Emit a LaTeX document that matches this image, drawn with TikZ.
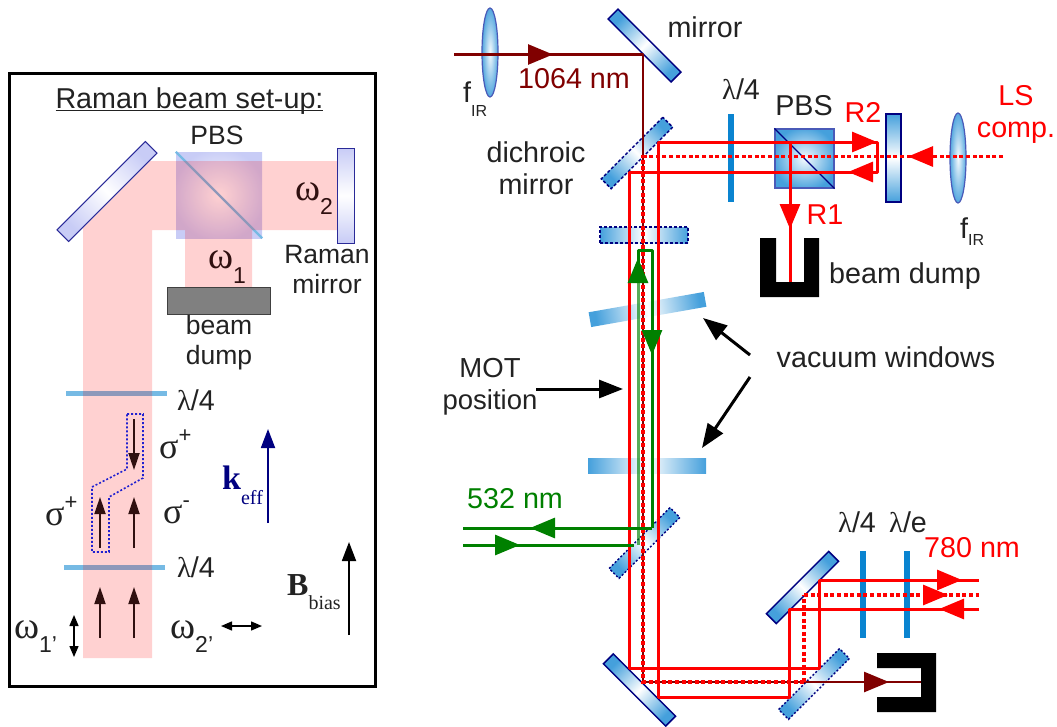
\documentclass[tikz,border=0pt]{standalone}
\usepackage{fontspec}
\setmainfont{Liberation Sans}
\newfontfamily\greekface{Liberation Serif}
\usetikzlibrary{arrows.meta,shapes.geometric}

\definecolor{inktext}{HTML}{222222}
\definecolor{opticblue}{HTML}{45A0DC}
\definecolor{opticedge}{HTML}{000080}
\definecolor{lensedge}{HTML}{4A5AB8}
\definecolor{lavender}{HTML}{C8CCF6}
\definecolor{lavedge}{HTML}{2A2A98}
\definecolor{plateblue}{HTML}{0A84D0}
\definecolor{platelight}{HTML}{76BAE4}
\definecolor{irred}{HTML}{800000}
\definecolor{pulsegreen}{HTML}{008000}
\definecolor{brownink}{HTML}{301010}
\definecolor{dottedblue}{HTML}{2020D0}

\pgfdeclareradialshading{glowblue}{\pgfpoint{0bp}{0bp}}{color(0bp)=(white!95!opticblue); color(27bp)=(opticblue); color(50bp)=(opticblue)}
\pgfdeclareradialshading{glowlav}{\pgfpoint{0bp}{0bp}}{color(0bp)=(white); color(27bp)=(lavender); color(50bp)=(lavender)}

\newcommand{\grk}[1]{{\greekface #1}}
\newcommand{\shifttext}[3]{\raisebox{#1pt}{\fontsize{#2}{#2}\selectfont #3}}
\newcommand{\omg}{{\greekface\fontsize{38}{38}\selectfont ω}}
\newcommand{\sgm}{{\greekface\fontsize{36}{36}\selectfont σ}}
\newcommand{\titlerule}[1]{\vtop{\hbox{#1}\kern-4pt\hrule height 1.5pt}}

\tikzset{
  lbl/.style={inner sep=0pt,text=inktext,align=center,font=\fontsize{28.7}{32}\selectfont},
  smalllbl/.style={lbl,font=\fontsize{26.5}{30}\selectfont},
  bluefade/.style={left color=opticblue,right color=opticblue,middle color=white},
  lavfade/.style={left color=lavender,right color=lavender,middle color=white},
  optic/.style={draw=opticedge,line width=1.5pt,bluefade,inner sep=0pt,minimum width=#1,minimum height=14pt},
  lavoptic/.style={draw=lavedge,line width=1pt,lavfade,inner sep=0pt,minimum width=#1,minimum height=16.5pt},
  window/.style={bluefade,inner sep=0pt,minimum width=#1,minimum height=15pt},
  lens/.style={ellipse,draw=lensedge,line width=1.2pt,shading=glowblue,inner sep=0pt,minimum width=16pt,minimum height=#1},
  dashedge/.style={dash pattern=on 3pt off 2pt},
  dotedge/.style={dash pattern=on 2pt off 2pt},
  plate/.style={fill=plateblue,draw=none},
  redbeam/.style={draw=red,line width=3pt,line join=round},
  reddots/.style={draw=red,line width=3.6pt,dash pattern=on 4pt off 2.6pt},
  irbeam/.style={draw=irred,line width=2.6pt,line join=round},
  greenbeam/.style={draw=pulsegreen,line width=3pt,line join=round},
  bigtip/.style={-{Triangle[length=25pt,width=20pt]}},
  brownarrow/.style={draw=brownink,line width=1.8pt,-{Triangle[length=17pt,width=11pt]}},
  plainarrow/.style={draw=black,line width=3pt,-{Triangle[length=24pt,width=18pt]}},
  pairarrow/.style={draw=black,line width=1.4pt,{Triangle[length=11pt,width=9pt]}-{Triangle[length=11pt,width=9pt]}}
}

\begin{document}
\begin{tikzpicture}[x=1pt,y=-1pt]
\useasboundingbox (0,0) rectangle (1057,726);
\draw[line width=3pt] (9,73) rectangle (375,686);

\node[shading=glowlav,minimum width=86pt,minimum height=86pt,inner sep=0pt] (boxcube) at (219,195) {};
\draw[platelight,line width=2.4pt] (boxcube.north west) -- (boxcube.south east);
\fill[platelight] (66,390.5) rectangle (167,395.5);
\fill[platelight] (64,564.5) rectangle (165,569.5);
\fill[red,opacity=0.18] (83,658) -- (152,658) -- (152,230) -- (185,230) -- (185,287) -- (252,287) -- (252,230) -- (338,230) -- (338,161) -- (150,161) -- (83,228) -- cycle;
\node[lavoptic=125pt,rotate=45,shading angle=135] (boxmirror) at (107,191.5) {};
\node[lavoptic=95pt,rotate=90,shading angle=0] (ramanmirror) at (346,195.5) {};
\node[draw=black!75,line width=1pt,fill=black!50,minimum width=103pt,minimum height=27pt,inner sep=0pt] (boxdump) at (218.5,300.5) {};

\draw[dottedblue,line width=1.6pt,dotedge] (127,414) -- (143,414) -- (143,478) -- (109,497) -- (109,552) -- (92,552) -- (92,487) -- (127,469) -- cycle;
\draw[brownarrow] (134,419) -- (134,470);
\draw[brownarrow] (100,548) -- (100,497);
\draw[brownarrow] (134,548) -- (134,497);
\draw[brownarrow] (100,638) -- (100,587);
\draw[brownarrow] (134,638) -- (134,587);
\draw[pairarrow] (74,615) -- (74,657);
\draw[pairarrow] (221,626) -- (262,626);
\draw[draw=opticedge,line width=1.8pt,-{Triangle[length=19pt,width=14pt]}] (268,523) -- (268,429);
\draw[draw=black,line width=1.8pt,-{Triangle[length=19pt,width=14pt]}] (349,635) -- (349,542);

\node[lbl,anchor=base] (boxtitle) at (189.5,108) {\titlerule{Raman beam set-up:}};
\node[smalllbl] (boxpbs) at (217,135) {PBS};
\node[smalllbl,anchor=base west,text=brownink] (omegatwo) at (295,200) {\omg\shifttext{-14}{23}{2}};
\node[smalllbl,anchor=base west,text=brownink] (omegaone) at (208,268) {\omg\shifttext{-15}{23}{1}};
\node[smalllbl] (ramanlabel) at (327,270) {Raman\\mirror};
\node[smalllbl] (dumplabel) at (219,343) {beam\\dump};
\node[lbl] (quartertop) at (196,400) {\grk{λ}/4};
\node[lbl] (quarterlow) at (196,567) {\grk{λ}/4};
\node[lbl,anchor=base west] (sigmatop) at (159,458) {\sgm\shifttext{16}{22}{+}};
\node[lbl,anchor=base west] (sigmaleft) at (45,525) {\sgm\shifttext{16}{22}{+}};
\node[lbl,anchor=base west] (sigmaright) at (163,523) {\sgm\shifttext{16}{22}{-}};
\node[lbl,anchor=base west,text=opticedge] (keff) at (222,489) {{\greekface\bfseries\fontsize{34}{34}\selectfont k}{\greekface\shifttext{-15}{20}{eff}}};
\node[lbl,anchor=base west] (bbias) at (287,595) {{\greekface\bfseries\fontsize{32}{32}\selectfont B}{\greekface\shifttext{-14}{20}{bias}}};
\node[lbl,anchor=base west] (omegaonep) at (14,638) {\omg\shifttext{-14}{23}{1'}};
\node[lbl,anchor=base west] (omegatwop) at (170,638) {\omg\shifttext{-14}{23}{2'}};

\node[lens=89pt] (lensir) at (490,52.5) {};
\node[optic=89pt,rotate=-45,shading angle=45] (topmirror) at (644.5,45.5) {};
\node[optic=87pt,dashedge,rotate=45,shading angle=135] (dichroictop) at (637,153) {};
\node[optic=88pt,dashedge,minimum height=16pt] (platedash) at (644,235) {};
\node[window=117pt,rotate=10,shading angle=100] (windowtop) at (647.5,309.5) {};
\node[window=118pt] (windowlow) at (647,465.5) {};
\node[optic=86pt,dotedge,rotate=45,shading angle=135] (dichroicgreen) at (644.5,543) {};
\node[optic=88pt,rotate=-45,shading angle=45] (lowmirror) at (639.5,690) {};
\node[optic=88pt,rotate=45,shading angle=135] (rightmirror) at (802.5,587.5) {};
\node[optic=86pt,dotedge,rotate=45,shading angle=135] (dichroiclow) at (814,684) {};
\fill[plate] (728,114) rectangle (734,202);
\fill[plate] (860,551) rectangle (866,638);
\fill[plate] (904,551) rectangle (910,638);
\node[draw=lensedge,line width=1.2pt,shading=glowblue,minimum width=59pt,minimum height=59pt,inner sep=0pt] (cube) at (804.5,158.5) {};
\draw[opticedge,line width=1.2pt] (cube.north west) -- (cube.south east);
\node[optic=88pt,minimum height=15pt,rotate=90,shading angle=0] (rtwoplate) at (893.5,158) {};
\node[lens=90pt] (lensright) at (958,158) {};

\fill[black] (760,238) -- (776,238) -- (776,282) -- (804,282) -- (804,238) -- (819,238) -- (819,297) -- (760,297) -- cycle;
\fill[black] (877,653) -- (936,653) -- (936,712) -- (877,712) -- (877,697) -- (921,697) -- (921,668) -- (877,668) -- cycle;

\draw[irbeam] (454,54.5) -- (643,54.5) -- (643,682) -- (921,682);
\draw[draw=irred,line width=2.6pt,bigtip] (528,54.5) -- (553,54.5);
\draw[draw=irred,line width=2.6pt,bigtip] (864,682) -- (889,682);

\draw[redbeam] (979,609) -- (789,609) -- (789,697) -- (658,697) -- (658,142) -- (877,142) -- (877,172) -- (629,172) -- (629,668) -- (819,668) -- (819,580) -- (979,580);
\draw[reddots] (1003,156.5) -- (643,156.5) -- (643,682) -- (804,682);
\draw[reddots,line width=4.4pt] (804,682) -- (804,595);
\draw[reddots] (804,595) -- (979,595);
\draw[redbeam] (790,142) -- (790,282);

\draw[greenbeam] (652,528) -- (652,250) -- (638,250) -- (638,283);
\draw[greenbeam,opacity=0.65] (638,283) -- (638,545);
\draw[greenbeam] (463,528) -- (652,528);
\draw[greenbeam] (463,545) -- (634,545);

\draw[red,line width=3pt,bigtip] (851,142) -- (877,142);
\draw[red,line width=3pt,bigtip] (872,172) -- (848,172);
\draw[red,line width=3pt,bigtip] (933,156.5) -- (908,156.5);
\draw[red,line width=3pt,bigtip] (790,205) -- (790,229);
\draw[red,line width=3pt,bigtip] (939,580) -- (962,580);
\draw[red,line width=3pt,bigtip] (924,595) -- (948,595);
\draw[red,line width=3pt,bigtip] (962,609) -- (939,609);
\draw[pulsegreen,line width=3pt,bigtip] (638,283) -- (638,258);
\draw[pulsegreen,line width=3pt,bigtip] (652,332) -- (652,355);
\draw[pulsegreen,line width=3pt,bigtip] (553,528) -- (530,528);
\draw[pulsegreen,line width=3pt,bigtip] (497,545) -- (520,545);

\draw[plainarrow] (536,389) -- (623,389);
\draw[plainarrow] (750,355) -- (703,318);
\draw[plainarrow] (750,377) -- (702,448);

\node[lbl] (mirrorlabel) at (705,27) {mirror};
\node[lbl,anchor=base west,text=irred] (irlabel) at (518,88) {1064 nm};
\node[lbl,anchor=base west] (firleft) at (463,102) {f\shifttext{-14}{16}{IR}};
\node[lbl] (dichroiclabel) at (536,168) {dichroic\\mirror};
\node[lbl] (quarterone) at (741,89) {\grk{λ}/4};
\node[lbl] (pbslabel) at (804,106) {PBS};
\node[lbl,anchor=base,text=red] (rtwo) at (863,122) {R2};
\node[lbl,anchor=base,text=red] (rone) at (825,224) {R1};
\node[lbl,text=red] (lscomp) at (1016,114) {LS\\comp.};
\node[lbl,anchor=base west] (firright) at (960,238) {f\shifttext{-7}{16}{IR}};
\node[lbl,anchor=base west] (beamdump) at (829,283) {beam dump};
\node[smalllbl,font=\fontsize{27.5}{32}\selectfont] (motlabel) at (490,387) {MOT\\position};
\node[lbl] (vacuumlabel) at (886,357) {vacuum windows};
\node[lbl,anchor=base west,text=pulsegreen] (greenlabel) at (467,508) {532 nm};
\node[lbl] (quartertwo) at (857,522) {\grk{λ}/4};
\node[lbl] (lambdae) at (908,522) {\grk{λ}/e};
\node[lbl,anchor=base west,text=red] (redlabel) at (924,557) {780 nm};
\end{tikzpicture}
\end{document}
